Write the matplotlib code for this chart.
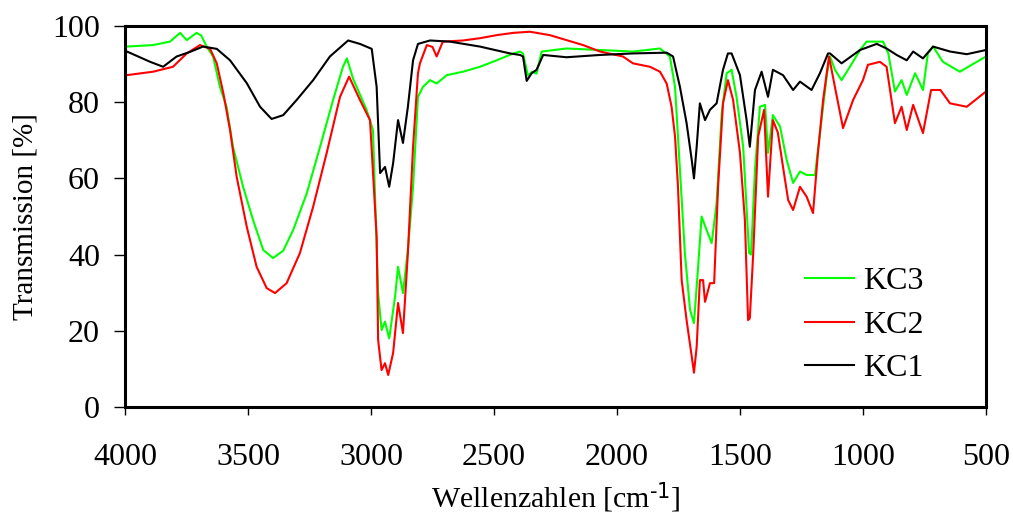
import numpy as np
import matplotlib
matplotlib.use("Agg")
import matplotlib.pyplot as plt

# IR spectra, values
kc1_wn = [4000, 3992, 3898, 3845, 3790, 3736, 3683, 3627, 3573, 3505, 3451, 3404, 3357, 3302,
          3235, 3167, 3093, 3045, 2997, 2977, 2963, 2943, 2926, 2910, 2890, 2870, 2850, 2829,
          2809, 2760, 2679, 2557, 2435, 2394, 2382, 2367, 2347, 2327, 2300, 2205, 2069, 1935,
          1798, 1772, 1744, 1717, 1696, 1687, 1676, 1663, 1642, 1622, 1595, 1569, 1549, 1534,
          1500, 1473, 1460, 1439, 1412, 1386, 1366, 1325, 1284, 1256, 1209, 1175, 1142, 1134,
          1087, 1012, 944, 904, 863, 822, 796, 756, 715, 646, 578, 500]
kc1 = [92.5, 93.3, 90.6, 89.3, 92, 93.2, 94.6, 94, 91, 85, 78.8, 75.6, 76.6, 80.6,
       85.8, 92, 96.2, 95.3, 94, 84, 61.4, 63, 57.8, 64, 75.3, 69.3, 78.8, 91,
       95.3, 96.2, 95.9, 94.6, 92.8, 92.4, 92, 85.6, 87.6, 88.5, 92.4, 91.8, 92.4, 92.8,
       93, 92, 84, 74.5, 64.8, 60, 68.3, 79.7, 75.3, 78, 79.7, 88.5, 92.8, 92.8,
       87.1, 75.3, 68.3, 83.2, 88, 81.4, 88.5, 87.1, 83.2, 85.4, 83.2, 87.6, 92.8, 92.8,
       90.2, 93.7, 95.3, 94.1, 92.4, 91, 93.3, 91.5, 94.6, 93.3, 92.6, 93.7]

kc2_wn = [4000, 3993, 3886, 3805, 3749, 3695, 3654, 3627, 3600, 3573, 3546, 3505, 3465, 3424,
          3390, 3343, 3289, 3235, 3180, 3126, 3089, 3045, 3004, 2977, 2971, 2957, 2943, 2930,
          2910, 2890, 2870, 2850, 2829, 2809, 2801, 2773, 2750, 2733, 2708, 2626, 2557, 2489,
          2421, 2354, 2273, 2138, 2069, 1976, 1935, 1866, 1825, 1798, 1778, 1764, 1752, 1737,
          1717, 1696, 1687, 1676, 1663, 1650, 1642, 1622, 1605, 1589, 1569, 1549, 1528, 1500,
          1480, 1467, 1460, 1446, 1426, 1402, 1386, 1366, 1346, 1325, 1304, 1284, 1256, 1229,
          1203, 1183, 1162, 1138, 1114, 1081, 1040, 1000, 980, 931, 904, 870, 843, 822,
          796, 756, 723, 685, 646, 578, 500]
kc2 = [87, 87.1, 88, 89.3, 92.8, 95, 94, 90.2, 82.3, 72.7, 60.4, 47.3, 36.8, 31.2,
       29.9, 32.5, 40.4, 52.6, 66.7, 81.4, 86.7, 80.6, 75.3, 44.7, 17.6, 9.7, 11.5, 8.4,
       14.2, 27.3, 19.4, 40.4, 68.3, 87.6, 90.2, 95, 94.5, 92, 95.9, 96.2, 96.8, 97.6,
       98.2, 98.5, 97.6, 95, 93.3, 92, 90.2, 89.3, 88, 84.9, 78.8, 71, 57.8, 33.3,
       22.8, 13.2, 9, 15.8, 33.3, 33.3, 27.6, 32.5, 32.5, 57.8, 79.7, 85.8, 80.6, 66.7,
       49, 22.8, 23.3, 40.4, 71, 78, 55.2, 75.3, 72, 63, 54.3, 51.7, 57.8, 55.2,
       50.9, 66.7, 80.6, 92, 84, 73.2, 80.6, 85.8, 89.8, 90.6, 89.3, 74.5, 78.8, 72.7,
       79.3, 71.9, 83.2, 83.2, 79.7, 78.8, 82.8]

kc3_wn = [4000, 3993, 3886, 3817, 3776, 3749, 3709, 3690, 3668, 3642, 3614, 3587, 3561, 3520,
          3479, 3438, 3398, 3357, 3316, 3261, 3207, 3154, 3114, 3098, 3073, 3018, 2992, 2971,
          2957, 2943, 2926, 2902, 2890, 2870, 2850, 2829, 2809, 2789, 2760, 2733, 2692, 2626,
          2557, 2489, 2421, 2394, 2382, 2362, 2345, 2327, 2306, 2205, 2069, 1935, 1825, 1785,
          1764, 1744, 1724, 1703, 1687, 1671, 1656, 1636, 1615, 1595, 1574, 1554, 1534, 1514,
          1487, 1463, 1455, 1439, 1419, 1398, 1386, 1366, 1337, 1310, 1284, 1256, 1229, 1195,
          1167, 1146, 1134, 1114, 1087, 1053, 1012, 985, 918, 897, 870, 843, 822, 788,
          756, 736, 715, 675, 606, 500]
kc3 = [94, 94.6, 95, 95.9, 98.2, 96.3, 98.2, 97.5, 94.6, 92, 84, 78.8, 68.3, 57.8,
       49, 41.2, 39.1, 41, 46.5, 56.1, 68.3, 80.6, 89.3, 91.5, 86.2, 78, 72.7, 29.9,
       20.2, 22.4, 18, 29, 36.8, 29.9, 41.2, 57.8, 81.4, 84, 85.8, 84.9, 87.1, 88,
       89.3, 91, 92.8, 93.3, 92.8, 87, 88, 87.5, 93.3, 94.1, 93.7, 93.3, 94.1, 92,
       84, 62.2, 40.4, 25.5, 22, 36, 50, 46.5, 43, 53.5, 77.2, 87.6, 88.5, 81.4,
       68.3, 40.4, 40, 62.2, 78.8, 79.3, 66.7, 76.6, 73.6, 64.8, 58.8, 61.8, 60.9, 60.9,
       76.2, 87.6, 92, 88.5, 85.8, 89.3, 93.7, 95.9, 95.9, 92.8, 82.8, 85.8, 81.9, 87.6,
       83.2, 92.8, 94.6, 90.6, 88, 92]

plt.rcParams['font.family'] = ['Liberation Serif', 'DejaVu Serif']
plt.rcParams['mathtext.default'] = 'regular'

fig = plt.figure(figsize=(10.13, 5.18), dpi=100)
fig.subplots_adjust(left=0.1234, right=0.9733, top=0.9498, bottom=0.2143)
ax = fig.add_subplot(111)

ax.plot(kc3_wn, kc3, color='#00ff00', lw=1.5, label='KC3')
ax.plot(kc2_wn, kc2, color='#ff0000', lw=1.5, label='KC2')
ax.plot(kc1_wn, kc1, color='black', lw=1.5, label='KC1')

ax.set_xlim(4000, 500)
ax.set_ylim(0, 100)
ax.set_xticks(np.arange(4000, 499, -500))
ax.set_yticks(np.arange(0, 101, 20))

for s in ax.spines.values():
    s.set_linewidth(2.2)
ax.tick_params(axis='x', direction='out', length=6, width=1, labelsize=23, pad=20)
ax.tick_params(axis='y', direction='out', length=8, width=1, labelsize=23, pad=10)

ax.set_xlabel(r'Wellenzahlen [cm$^{\text{-1}}$]', fontsize=21.5, labelpad=6)
ax.set_ylabel('Transmission [%]', fontsize=21, labelpad=10)

ax.legend(loc='center left', bbox_to_anchor=(0.79, 0.215), frameon=False,
          fontsize=23, handlelength=1.53, handletextpad=0.28, labelspacing=0.45,
          borderpad=0, borderaxespad=0)

plt.savefig('out.png', dpi=100)
